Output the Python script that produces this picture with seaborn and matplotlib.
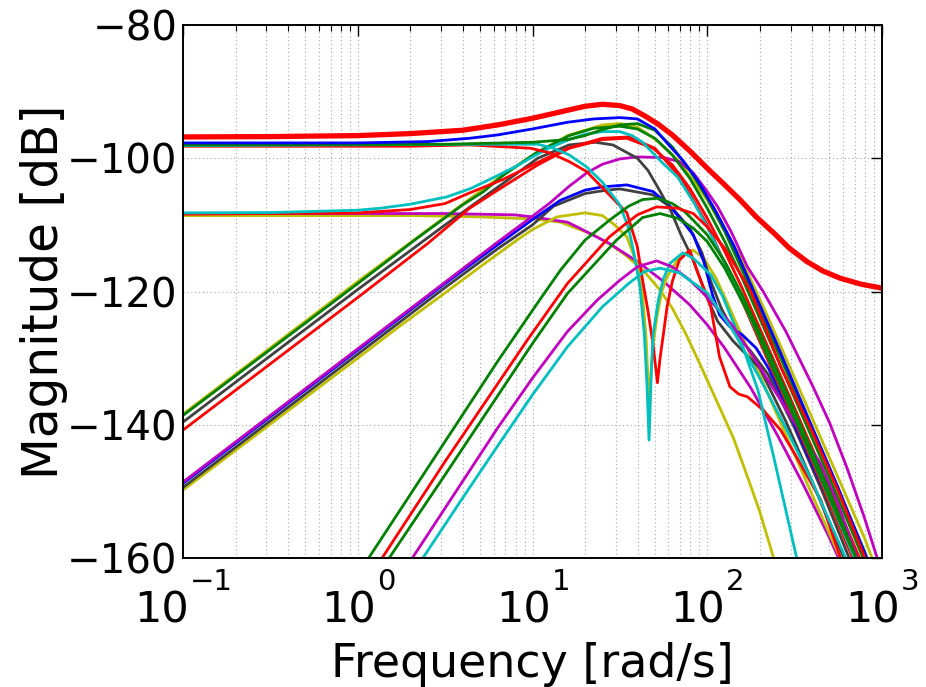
import numpy as np
import pandas as pd
import matplotlib
matplotlib.use("Agg")
import matplotlib.pyplot as plt
import seaborn as sns
from matplotlib.ticker import LogLocator, NullFormatter
from matplotlib.transforms import ScaledTranslation

# ---------------- data (log10 of frequency [rad/s], magnitude [dB]) ----------------
c01_logw = [-1, -0.5, 0, 0.3, 0.6, 0.8, 1.0, 1.1, 1.2, 1.3, 1.4, 1.5, 1.57, 1.64, 1.72, 1.8, 1.9, 2.0, 2.1, 2.19, 2.28, 2.38, 2.47, 2.57, 2.66, 2.76, 2.88, 3.0]
c01_db = [-96.8, -96.75, -96.6, -96.3, -95.8, -95.0, -94.0, -93.4, -92.8, -92.2, -91.9, -92.1, -92.6, -93.6, -94.9, -96.5, -98.9, -101.5, -104.0, -106.3, -108.8, -111.2, -113.5, -115.5, -116.9, -118.0, -118.9, -119.5]

c02_logw = [-1, 0, 0.4, 0.64, 0.8, 1.0, 1.2, 1.35, 1.5, 1.6, 1.7, 1.79, 1.86, 1.95, 2.05, 2.15, 2.25, 2.4, 2.57, 2.75, 2.92]
c02_db = [-97.7, -97.7, -97.5, -97.0, -96.5, -95.6, -94.6, -94.1, -93.9, -94.1, -95.6, -98.3, -100.3, -103.5, -108.0, -113.0, -119.0, -128.0, -138.5, -149.5, -160.5]

c03_logw = [-1, 0.5, 1.0, 1.2, 1.3, 1.4, 1.5, 1.6, 1.7, 1.8, 1.9, 2.0, 2.1, 2.2, 2.3, 2.45, 2.6, 2.75, 2.9, 2.92]
c03_db = [-98.0, -97.9, -97.6, -97.2, -96.6, -95.7, -95.0, -94.8, -95.8, -98.3, -101.8, -106.0, -111.0, -116.8, -122.8, -131.8, -140.8, -149.8, -159.0, -160.5]

c04_logw = [-1, 0.3, 0.64, 0.99, 1.1, 1.21, 1.31, 1.44, 1.54, 1.6, 1.63, 1.66, 1.69, 1.715, 1.73, 1.75, 1.77, 1.8, 1.84, 1.9, 1.94, 1.98, 2.02, 2.07, 2.13, 2.18, 2.23, 2.32, 2.42, 2.51, 2.65, 2.76, 2.77]
c04_db = [-98.2, -98.2, -98.0, -98.5, -99.2, -100.5, -102.0, -105.5, -108.2, -113.3, -118.3, -122.8, -128.0, -133.7, -130.0, -126.2, -122.3, -118.5, -115.3, -113.8, -116.8, -119.5, -122.3, -129.8, -134.3, -135.4, -135.8, -137.8, -140.8, -144.8, -151.3, -159.8, -161.0]

c05_logw = [-1, 0.8, 1.03, 1.12, 1.21, 1.31, 1.4, 1.5, 1.55, 1.58, 1.615, 1.64, 1.655, 1.667, 1.68, 1.69, 1.72, 1.75, 1.79, 1.86, 1.92, 2.02, 2.09, 2.19, 2.29, 2.38, 2.51, 2.52]
c05_db = [-98.1, -97.9, -97.9, -98.5, -99.5, -101.3, -103.6, -107.0, -110.5, -114.2, -119.3, -126.5, -134.0, -142.3, -132.0, -126.5, -121.3, -118.0, -115.7, -114.2, -115.0, -117.5, -120.8, -127.3, -134.8, -144.8, -159.8, -161.0]

c06_logw = [-1, 0.3, 0.7, 1.0, 1.16, 1.25, 1.35, 1.45, 1.54, 1.64, 1.73, 1.8, 1.88, 1.96, 2.05, 2.15, 2.23, 2.3, 2.38, 2.39]
c06_db = [-108.6, -108.6, -108.8, -109.1, -109.6, -110.5, -111.5, -113.0, -114.7, -117.0, -119.8, -122.5, -126.5, -131.0, -136.2, -142.0, -147.8, -153.0, -160.0, -161.0]

c07_logw = [-1, 0.5, 0.9, 1.0, 1.2, 1.27, 1.44, 1.6, 1.75, 1.9, 2.0, 2.1, 2.25, 2.4, 2.55, 2.7, 2.76]
c07_db = [-108.3, -108.3, -108.5, -108.8, -109.6, -110.5, -112.8, -115.5, -118.5, -122.0, -125.0, -128.5, -134.5, -141.5, -149.0, -157.0, -160.5]

c08_logw = [-1, -0.5, 0, 0.13, 0.3, 0.51, 0.65, 0.8, 0.9, 1.0, 1.1, 1.21, 1.3, 1.4, 1.5, 1.57, 1.63, 1.74, 1.83, 1.92, 2.0, 2.11, 2.19, 2.3, 2.4, 2.6, 2.85]
c08_db = [-108.2, -108.15, -107.8, -107.5, -106.9, -105.8, -104.5, -102.6, -101.3, -99.8, -98.4, -97.2, -96.4, -96.0, -96.0, -96.6, -97.6, -100.6, -102.8, -106.5, -110.3, -116.3, -120.8, -127.0, -133.0, -145.0, -160.5]

c09_logw = [-1, 0, 0.3, 0.5, 0.64, 0.83, 1.0, 1.2, 1.4, 1.55, 1.7, 1.85, 2.0, 2.2, 2.4, 2.6, 2.84]
c09_db = [-108.4, -108.2, -107.7, -106.8, -105.2, -103.2, -101.0, -98.5, -97.0, -96.8, -98.5, -103.0, -110.0, -121.5, -133.5, -145.5, -160.5]

c10_logw = [-1, 0, 0.34, 0.6, 0.72, 0.83, 1.02, 1.21, 1.35, 1.5, 1.6, 1.7, 1.8, 1.9, 2.0, 2.1, 2.2, 2.35, 2.5, 2.7, 2.9]
c10_db = [-138.6, -118.8, -112.0, -107.0, -105.0, -102.6, -99.2, -96.6, -95.5, -95.2, -95.6, -97.0, -99.5, -103.0, -107.5, -112.5, -118.0, -127.0, -136.0, -148.0, -160.5]

c11_logw = [-1, 0, 0.5, 0.83, 1.03, 1.21, 1.36, 1.46, 1.6, 1.66, 1.72, 1.79, 1.85, 1.92, 2.0, 2.06, 2.15, 2.3, 2.45, 2.6, 2.79]
c11_db = [-139.6, -119.7, -110.0, -103.8, -100.0, -98.0, -97.6, -98.0, -100.0, -101.8, -104.5, -107.8, -111.5, -115.3, -121.0, -124.5, -127.5, -131.5, -139.5, -148.5, -160.5]

c12_logw = [-1, 0, 0.4, 0.64, 0.83, 1.03, 1.21, 1.4, 1.54, 1.69, 1.8, 1.9, 2.0, 2.1, 2.2, 2.35, 2.5, 2.7, 2.88]
c12_db = [-140.8, -120.9, -112.8, -107.5, -104.3, -101.0, -98.5, -97.2, -97.0, -98.5, -101.0, -104.5, -109.0, -114.0, -119.5, -128.5, -137.5, -149.5, -160.5]

c13_logw = [-1, 0, 0.5, 0.8, 1.0, 1.16, 1.3, 1.4, 1.54, 1.69, 1.78, 1.86, 1.92, 1.98, 2.03, 2.07, 2.13, 2.2, 2.28, 2.35, 2.45, 2.6, 2.75, 2.85]
c13_db = [-148.8, -128.8, -118.8, -113.0, -109.2, -106.3, -104.8, -104.3, -104.0, -105.0, -107.0, -109.5, -111.5, -115.5, -120.5, -123.5, -125.3, -126.5, -128.5, -131.5, -137.0, -146.0, -154.5, -160.5]

c14_logw = [-1, 0, 0.5, 0.8, 1.0, 1.12, 1.3, 1.42, 1.5, 1.69, 1.8, 1.9, 1.97, 2.02, 2.08, 2.15, 2.25, 2.35, 2.5, 2.65, 2.82]
c14_db = [-149.4, -129.4, -119.4, -113.6, -110.0, -107.2, -105.3, -104.8, -104.6, -105.5, -107.5, -110.5, -114.2, -118.5, -122.5, -126.0, -129.0, -132.5, -140.5, -149.5, -160.5]

c15_logw = [-1, 0, 0.5, 0.8, 1.0, 1.1, 1.21, 1.31, 1.4, 1.5, 1.6, 1.75, 1.84, 1.92, 2.0, 2.06, 2.14, 2.23, 2.32, 2.45, 2.6, 2.7, 2.8, 2.9, 2.97, 2.99]
c15_db = [-148.6, -128.6, -118.6, -112.6, -108.7, -106.7, -104.2, -102.2, -100.9, -100.1, -99.8, -99.9, -100.5, -102.2, -105.0, -107.3, -111.2, -116.3, -120.0, -126.0, -134.0, -139.7, -146.5, -154.0, -159.8, -161.0]

c16_logw = [-1, 0, 0.24, 0.5, 0.7, 0.91, 1.0, 1.14, 1.3, 1.4, 1.47, 1.54, 1.6, 1.63, 1.65, 1.667, 1.69, 1.712, 1.74, 1.77, 1.84, 1.92, 1.98, 2.05, 2.12, 2.2, 2.3, 2.4, 2.6, 2.77]
c16_db = [-149.8, -130.0, -125.2, -120.2, -116.3, -112.3, -110.7, -108.8, -108.2, -108.6, -110.0, -111.8, -116.0, -120.5, -127.0, -136.5, -128.0, -123.8, -120.0, -117.8, -114.8, -113.8, -115.0, -118.0, -122.0, -126.8, -132.5, -138.5, -150.5, -160.5]

c17_logw = [0.3, 0.5, 0.8, 1.0, 1.2, 1.37, 1.5, 1.6, 1.71, 1.8, 1.9, 1.96, 2.05, 2.15, 2.28, 2.42, 2.53, 2.645, 2.75, 2.86, 2.87]
c17_db = [-160.5, -152.5, -140.5, -133.0, -126.0, -121.3, -118.3, -116.3, -115.4, -116.3, -118.3, -119.8, -122.3, -125.3, -130.5, -136.3, -141.0, -145.7, -152.0, -160.2, -161.0]

c18_logw = [0.36, 0.6, 0.8, 1.0, 1.2, 1.4, 1.55, 1.64, 1.73, 1.84, 1.92, 2.0, 2.15, 2.3, 2.45, 2.6, 2.75, 2.8]
c18_db = [-160.5, -151.0, -143.2, -135.5, -128.3, -122.3, -118.8, -117.0, -116.5, -117.2, -118.7, -120.2, -126.0, -133.0, -140.5, -148.5, -157.5, -160.5]

c19_logw = [0.05, 0.5, 0.8, 1.04, 1.16, 1.3, 1.44, 1.55, 1.63, 1.72, 1.8, 1.87, 1.92, 2.0, 2.1, 2.2, 2.35, 2.5, 2.7, 2.86]
c19_db = [-160.5, -142.5, -130.5, -121.3, -116.8, -112.3, -109.3, -107.2, -106.2, -106.0, -106.8, -108.0, -109.3, -111.5, -115.5, -120.5, -129.0, -138.0, -150.0, -160.5]

c20_logw = [0.127, 0.5, 0.97, 1.2, 1.44, 1.54, 1.6, 1.71, 1.83, 1.92, 2.0, 2.1, 2.25, 2.42, 2.6, 2.75, 2.91]
c20_db = [-160.5, -145.5, -127.3, -118.8, -111.8, -109.7, -108.5, -107.3, -107.5, -108.3, -110.3, -113.5, -120.0, -131.3, -141.0, -150.0, -160.5]

c21_logw = [0.167, 0.5, 1.0, 1.2, 1.48, 1.63, 1.73, 1.83, 1.92, 2.0, 2.1, 2.25, 2.4, 2.6, 2.8, 2.86]
c21_db = [-160.5, -147.5, -127.8, -120.3, -112.3, -108.9, -108.3, -109.0, -110.5, -112.5, -116.5, -124.0, -133.0, -145.0, -157.0, -160.5]

c22_logw = [-1, 0, 0.5, 0.83, 1.0, 1.2, 1.4, 1.5, 1.6, 1.72, 1.84, 2.0, 2.19, 2.35, 2.5, 2.7, 2.9, 2.95]
c22_db = [-138.4, -118.5, -108.8, -102.5, -99.6, -96.6, -95.0, -94.8, -95.3, -97.5, -100.5, -106.3, -114.8, -124.0, -133.0, -145.0, -157.0, -160.5]

y_ticks = [-160, -140, -120, -100, -80]
x_ticks = [0.1, 1, 10, 100, 1000]
x_tick_base = "10"
x_tick_exps = ["\u22121", "0", "1", "2", "3"]

# ---------------- styles ----------------
BLUE, GREEN, RED = (0, 0, 1), (0, 0.5, 0), (1, 0, 0)
CYAN, MAGENTA, YELLOW, GRAY = (0, 0.75, 0.75), (0.75, 0, 0.75), (0.75, 0.75, 0), (0.25, 0.25, 0.25)

order = [
    ((c22_logw, c22_db), YELLOW, 2.0),
    ((c06_logw, c06_db), YELLOW, 2.0),
    ((c07_logw, c07_db), MAGENTA, 2.0),
    ((c16_logw, c16_db), YELLOW, 2.0),
    ((c14_logw, c14_db), GRAY, 2.0),
    ((c13_logw, c13_db), BLUE, 2.0),
    ((c15_logw, c15_db), MAGENTA, 2.0),
    ((c11_logw, c11_db), GRAY, 2.0),
    ((c12_logw, c12_db), RED, 2.0),
    ((c10_logw, c10_db), GREEN, 2.0),
    ((c09_logw, c09_db), RED, 2.0),
    ((c08_logw, c08_db), CYAN, 2.0),
    ((c04_logw, c04_db), RED, 2.0),
    ((c05_logw, c05_db), CYAN, 2.0),
    ((c03_logw, c03_db), GREEN, 2.0),
    ((c02_logw, c02_db), BLUE, 2.0),
    ((c17_logw, c17_db), MAGENTA, 2.0),
    ((c18_logw, c18_db), CYAN, 2.0),
    ((c19_logw, c19_db), GREEN, 2.0),
    ((c20_logw, c20_db), RED, 2.0),
    ((c21_logw, c21_db), GREEN, 2.0),
    ((c01_logw, c01_db), RED, 3.8),
]

sns.set_theme(style="white")
plt.rcParams["font.family"] = ["DejaVu Sans"]
plt.rcParams["text.color"] = "black"
plt.rcParams["axes.labelcolor"] = "black"
plt.rcParams["xtick.color"] = "black"
plt.rcParams["ytick.color"] = "black"

Y_SIZE, X_SIZE, E_SIZE = 29, 31, 21

W, H = 926, 687
fig = plt.figure(figsize=(W / 100, H / 100), dpi=100)
ax = fig.add_axes([183 / W, 1 - 558 / H, 699 / W, 533 / H])

for (lw_, db_), col, lwd in order:
    df = pd.DataFrame({"w": 10 ** np.asarray(lw_, dtype=float), "mag": db_})
    sns.lineplot(data=df, x="w", y="mag", color=col, linewidth=lwd, ax=ax,
                 sort=False, estimator=None, legend=False)

ax.set_xscale("log")
ax.set_xlim(0.1, 1000)
ax.set_ylim(-160, -80)

ax.set_xticks(x_ticks)
ax.set_xticklabels([x_tick_base] * len(x_ticks))
ax.xaxis.set_minor_locator(LogLocator(base=10, subs=np.arange(2, 10), numticks=50))
ax.xaxis.set_minor_formatter(NullFormatter())
ax.set_yticks(y_ticks)
ax.set_yticklabels([f"\u2212{abs(v)}" for v in y_ticks])

ax.tick_params(axis="both", which="both", direction="in", top=True, right=True,
               color="black", labelcolor="black")
ax.tick_params(axis="both", which="major", length=8, width=1.0)
ax.tick_params(axis="both", which="minor", length=4, width=0.8)
ax.tick_params(axis="y", labelsize=Y_SIZE, pad=4)
ax.tick_params(axis="x", labelsize=X_SIZE, pad=23)

ax.set_axisbelow(True)
ax.grid(True, which="major", axis="both", linestyle=(0, (1, 2.5)), color="#a8a8a8", linewidth=0.8)
ax.grid(True, which="minor", axis="x", linestyle=(0, (1, 2.5)), color="#a8a8a8", linewidth=0.8)

for s in ax.spines.values():
    s.set_color("black")
    s.set_linewidth(1.4)

ax.set_xlabel("Frequency [rad/s]", fontsize=33, color="black")
ax.set_ylabel("Magnitude [dB]", fontsize=35, color="black")
ax.xaxis.set_label_coords(0.5, -0.157)
ax.yaxis.set_label_coords(-0.165, 0.5)

# exponents of the decade labels (raised above the "10")
exps = []
for xt, e in zip(x_ticks, x_tick_exps):
    a = ax.annotate(e, xy=(xt, 0), xycoords=("data", "axes fraction"),
                    xytext=(0, -10), textcoords="offset pixels",
                    ha="left", va="top", fontsize=E_SIZE, color="black")
    exps.append(a)

fig.canvas.draw()
rend = fig.canvas.get_renderer()
for lab, a in zip(ax.get_xticklabels(), exps):
    w10 = lab.get_window_extent(rend).width
    we = a.get_window_extent(rend).width
    lab.set_transform(lab.get_transform() + ScaledTranslation(-we / 2 / fig.dpi, 0, fig.dpi_scale_trans))
    a.xyann = (w10 / 2 - we / 2 + 1, -10)

fig.savefig("out.png", dpi=100)
